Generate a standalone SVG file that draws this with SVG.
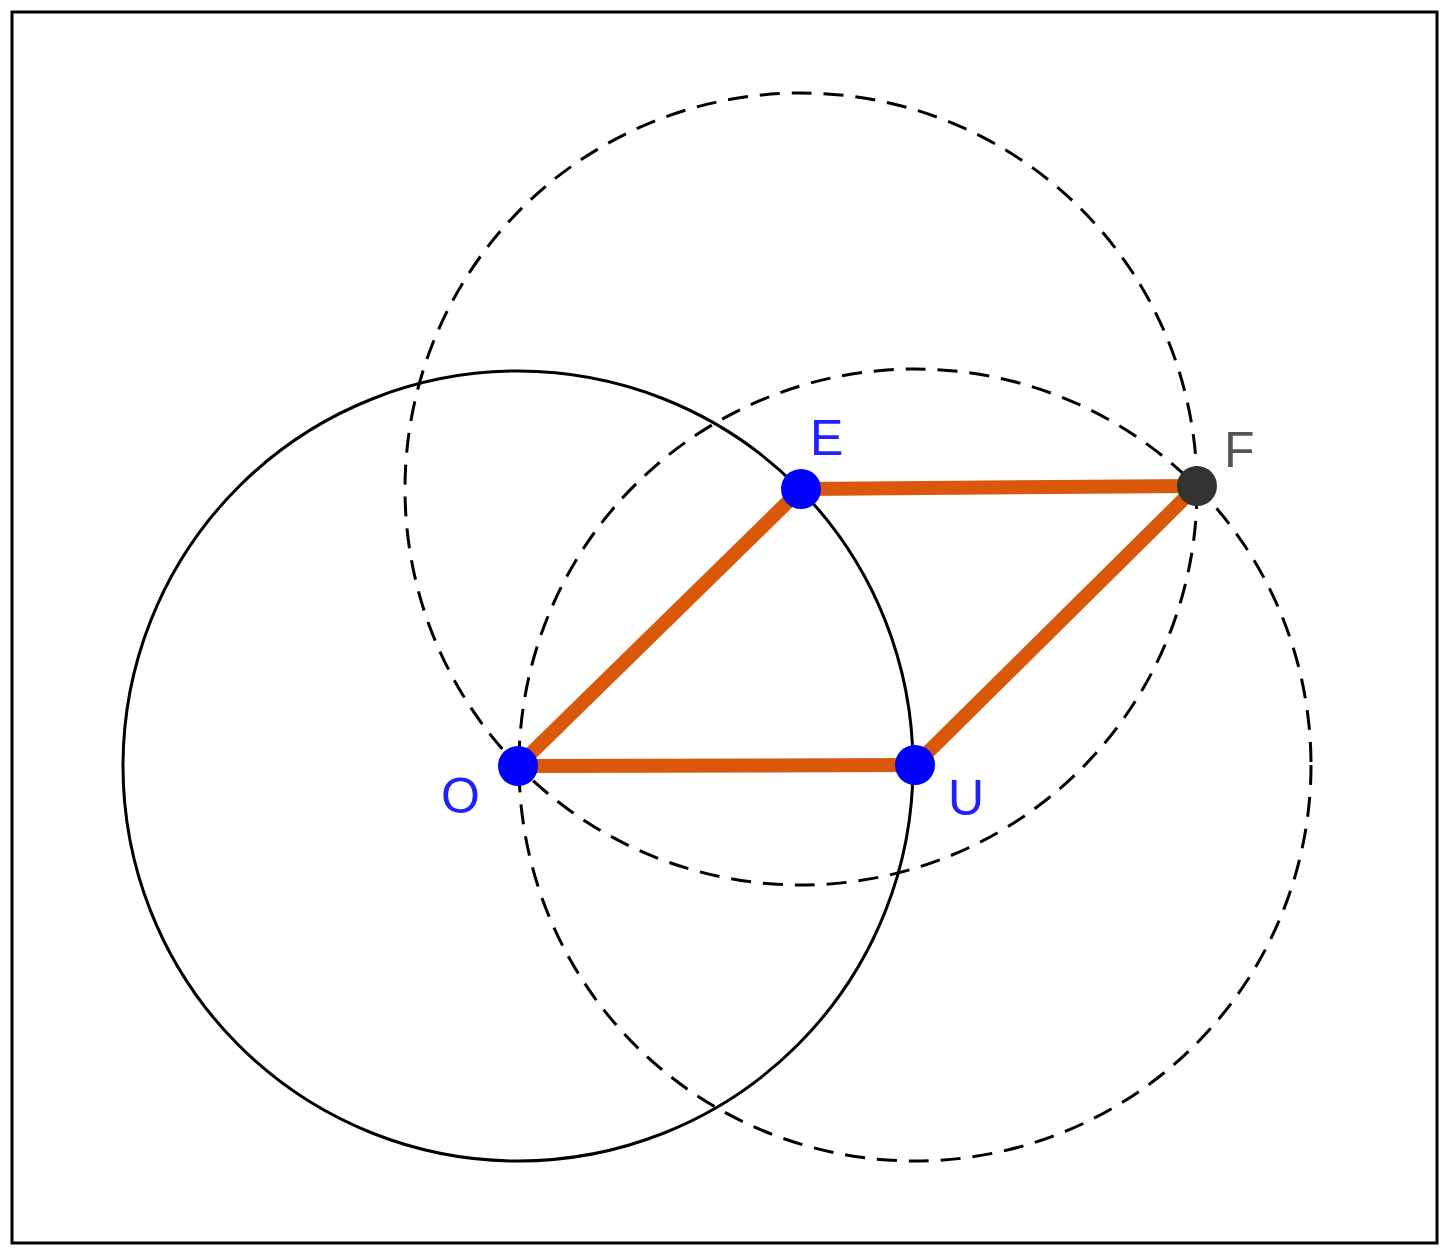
<svg xmlns="http://www.w3.org/2000/svg" width="1449" height="1258" viewBox="0 0 1449 1258">
<style>
.c{fill:none;stroke:#000;stroke-width:3}
.d{fill:none;stroke:#000;stroke-width:3;stroke-dasharray:20 12}
.s{stroke:#d9580a;stroke-width:14;stroke-linecap:round}
.p{fill:#0000ff}
.t{font-family:"Liberation Sans",Arial,sans-serif;font-size:50px;fill:#2020ff}
</style>
<rect x="12" y="12" width="1425" height="1231" fill="#fff" stroke="#000" stroke-width="3"/>
<g id="circles">
<circle class="c" cx="518" cy="766" r="395"/>
<circle class="d" cx="801" cy="489" r="396"/>
<circle class="d" cx="915" cy="765" r="396"/>
</g>
<g id="connectors">
<line class="s" x1="518" y1="766" x2="915" y2="765"/>
<line class="s" x1="518" y1="766" x2="801" y2="489"/>
<line class="s" x1="801" y1="489" x2="1197" y2="486"/>
<line class="s" x1="915" y1="765" x2="1197" y2="486"/>
</g>
<g id="O"><circle class="p" cx="518" cy="766" r="20"/><text class="t" x="441" y="813">O</text></g>
<g id="U"><circle class="p" cx="915" cy="765" r="20"/><text class="t" x="948" y="815">U</text></g>
<g id="E"><circle class="p" cx="801" cy="489" r="20"/><text class="t" x="810" y="455">E</text></g>
<g id="F"><circle cx="1197" cy="486" r="20" fill="#333"/><text class="t" x="1224" y="467" style="fill:#555">F</text></g>
</svg>
